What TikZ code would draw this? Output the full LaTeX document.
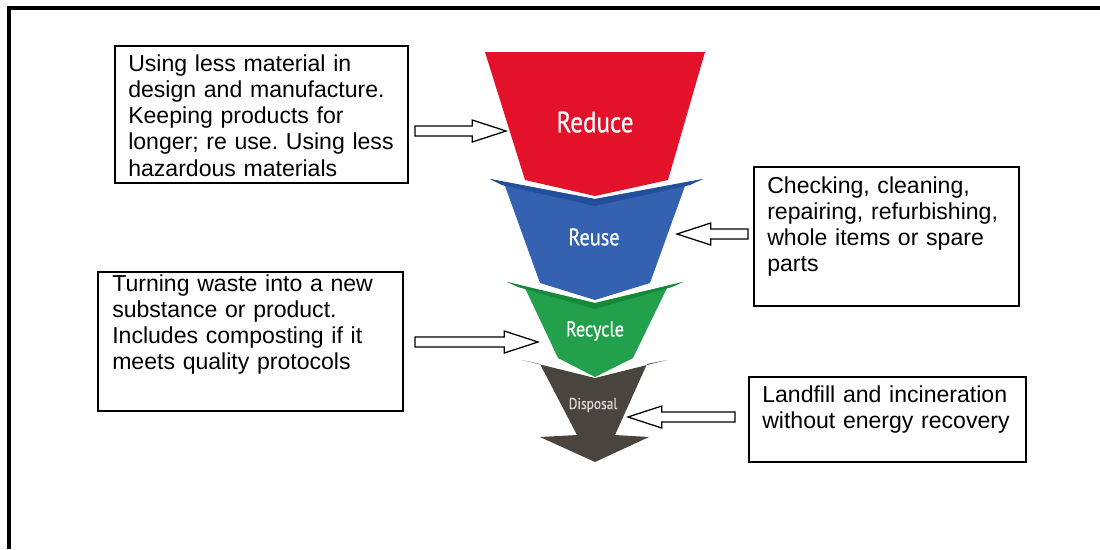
\documentclass[tikz,border=0pt]{standalone}
\usepackage{fontspec}
\setmainfont{Liberation Sans}
\newfontfamily\stagefont[FakeStretch=0.85,FakeBold=0.6]{PT Sans}
\usetikzlibrary{calc,fit}
\frenchspacing

\definecolor{reduceRed}{RGB}{227,18,42}
\definecolor{reuseBlue}{RGB}{52,98,176}
\definecolor{reuseBand}{RGB}{34,78,156}
\definecolor{recycleGreen}{RGB}{34,160,75}
\definecolor{recycleBand}{RGB}{22,136,58}
\definecolor{disposalGrey}{RGB}{74,68,62}

\begin{document}
\begin{tikzpicture}[x=0.025cm, y=-0.025cm,
    infobox/.style={draw, line width=1.7pt, inner sep=0pt},
    infotext/.style={anchor=base west, inner sep=0pt, text width=215pt, align=left,
        font=\fontsize{16.4pt}{18.7pt}\selectfont},
    stage/.style={text=white, inner sep=0pt, font=\stagefont\fontsize{#1}{#1}\selectfont},
    hollow/.style={draw, line width=0.9pt, fill=white,
        to path={let \p1=(\tikztostart), \p2=(\tikztotarget),
            \n1={ifthenelse(\x2>\x1,-24,24)} in
            ($(\p1)+(0,-5)$) -- ($(\p2)+(\n1,-5)$) -- ($(\p2)+(\n1,-11)$) -- (\p2)
            -- ($(\p2)+(\n1,11)$) -- ($(\p2)+(\n1,5)$) -- ($(\p1)+(0,5)$) -- cycle}}]
    \useasboundingbox (0,0) rectangle (1100,549);

    % frame
    \draw[line width=2.5pt] (9,549) -- (9,8) -- (1100,8);

    % funnel, lowest stage first
    \fill[disposalGrey] (522,360) -- (595,378) -- (667,360) -- (647,364) -- (615,435)
        -- (649,437) -- (595,462) -- (540,437) -- (577,435) -- (540,364) -- cycle;
    \fill[recycleGreen] (507,282) -- (595,303) -- (683,282) -- (667,288) -- (633,358)
        -- (595,377) -- (558,358) -- (525,288) -- cycle;
    \fill[recycleBand] (507,282) -- (595,303) -- (683,282) -- (672,287) -- (595,309) -- (518,287) -- cycle;
    \fill[reuseBlue] (490,179) -- (595,199) -- (703,179) -- (685,186) -- (650,283)
        -- (595,300) -- (540,283) -- (505,186) -- cycle;
    \fill[reuseBand] (490,179) -- (595,199) -- (703,179) -- (690,185) -- (595,206) -- (502,185) -- cycle;
    \fill[reduceRed] (485,52) -- (705,52) -- (668,180) -- (595,196) -- (525,180) -- cycle;

    \node (reduce) at (595,122) [stage=21pt] {Reduce};
    \node (reuse) at (594,237) [stage=17pt] {Reuse};
    \node (recycle) at (595,331) [stage=15.2pt] {Recycle};
    \node (disposal) at (593,405) [stage=11.2pt, text=black!15] {Disposal};

    % text boxes
    \node (reduceBox) [infobox, fit={(115,46) (408,183)}] {};
    \node (reduceText) at (128,71) [infotext] {Using less material in\\ design and manufacture.\\
        Keeping products for\\ longer; re use. Using less\\ hazardous materials};
    \node (reuseBox) [infobox, fit={(754,167) (1019,306)}] {};
    \node (reuseText) at (767,193) [infotext] {Checking, cleaning,\\ repairing, refurbishing,\\
        whole items or spare\\ parts};
    \node (recycleBox) [infobox, fit={(98,272) (403,411)}] {};
    \node (recycleText) at (112,291) [infotext] {Turning waste into a new\\ substance or product.\\
        Includes composting if it\\ meets quality protocols};
    \node (disposalBox) [infobox, fit={(749,377) (1026,462)}] {};
    \node (disposalText) at (762,402) [infotext] {Landfill and incineration\\ without energy recovery};

    % arrows
    \coordinate (reduceTail) at (415,131);
    \coordinate (reduceTip) at (506,131);
    \coordinate (reuseTail) at (748,234);
    \coordinate (reuseTip) at (677,234);
    \coordinate (recycleTail) at (415,342);
    \coordinate (recycleTip) at (538,342);
    \coordinate (disposalTail) at (735,417);
    \coordinate (disposalTip) at (628,417);

    \draw[hollow] (reduceTail) to (reduceTip);
    \draw[hollow] (reuseTail) to (reuseTip);
    \draw[hollow] (recycleTail) to (recycleTip);
    \draw[hollow] (disposalTail) to (disposalTip);
\end{tikzpicture}
\end{document}
